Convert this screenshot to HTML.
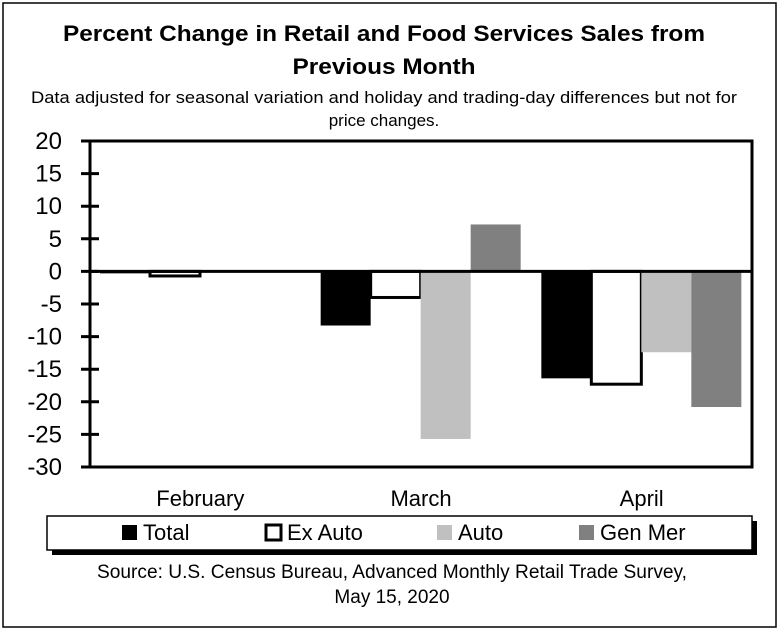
<!DOCTYPE html>
<html><head><meta charset="utf-8"><style>
body{margin:0;background:#fff;}
svg{display:block;font-family:"Liberation Sans",sans-serif;}
</style></head><body>
<svg id="chart" width="780" height="631">
<rect x="3" y="3" width="773" height="624" fill="#fff" stroke="#000" stroke-width="1.5"/>
<text x="384" y="41" text-anchor="middle" font-size="22" font-weight="bold" textLength="642" lengthAdjust="spacingAndGlyphs">Percent Change in Retail and Food Services Sales from</text>
<text x="384" y="74" text-anchor="middle" font-size="22" font-weight="bold" textLength="183" lengthAdjust="spacingAndGlyphs">Previous Month</text>
<text x="384" y="103" text-anchor="middle" font-size="17" textLength="706" lengthAdjust="spacingAndGlyphs">Data adjusted for seasonal variation and holiday and trading-day differences but not for</text>
<text x="384" y="126" text-anchor="middle" font-size="17">price changes.</text>
<g id="bars"></g>
<g id="axes"></g>
<g id="legend">
<rect x="52" y="521" width="705" height="34" fill="#000"/>
<rect x="47" y="516" width="705" height="34" fill="#fff" stroke="#000" stroke-width="1.5"/>
</g>
<text x="392" y="578" text-anchor="middle" font-size="19" textLength="590" lengthAdjust="spacingAndGlyphs">Source: U.S. Census Bureau, Advanced Monthly Retail Trade Survey,</text>
<text x="392" y="603" text-anchor="middle" font-size="19">May 15, 2020</text>
</svg>
<script>
const categories = ["February", "March", "April"];
const seriesNames = ["Total", "Ex Auto", "Auto", "Gen Mer"];
const totalValues = [-0.3, -8.3, -16.4];
const exAutoValues = [-0.7, -4.0, -17.3];
const autoValues = [-0.1, -25.7, -12.4];
const genMerValues = [0.0, 7.2, -20.8];
const yTicks = [20, 15, 10, 5, 0, -5, -10, -15, -20, -25, -30];

const NS = "http://www.w3.org/2000/svg";
const L = 90, R = 752, T = 141, B = 467, yMax = 20, yMin = -30;
const fills = ["#000", "#fff", "#c0c0c0", "#808080"];
const strokes = ["none", "#000", "none", "none"];
const series = [totalValues, exAutoValues, autoValues, genMerValues];
function y(v){ return T + (yMax - v) / (yMax - yMin) * (B - T); }
const gw = (R - L) / categories.length;
function x(ci, si){ return L + ci * gw + 10 + si * 50; }
function mk(tag, attrs, parent){ const e = document.createElementNS(NS, tag); for (const k in attrs) e.setAttribute(k, attrs[k]); parent.appendChild(e); return e; }
const bars = document.getElementById("bars"), axes = document.getElementById("axes"), legend = document.getElementById("legend");
series.forEach((vals, si) => {
  vals.forEach((v, ci) => {
    const y0 = y(0), y1 = y(v);
    const r = mk("rect", {x: x(ci, si), y: Math.min(y0, y1), width: 50, height: Math.max(Math.abs(y1 - y0), 0.8), fill: fills[si], stroke: strokes[si], "stroke-width": si === 1 ? 3 : 0}, bars);
    
    
  });
});
const frame = mk("rect", {x: L, y: T, width: R - L, height: B - T, fill: "none", stroke: "#000", "stroke-width": 3}, axes);


const zl = mk("line", {x1: L, x2: R, y1: y(0), y2: y(0), stroke: "#000", "stroke-width": 3}, axes);


yTicks.forEach(t => {
  const tk = mk("line", {x1: L - 9, x2: L + 9, y1: y(t), y2: y(t), stroke: "#000", "stroke-width": 3}, axes);
  
  
  const lb = mk("text", {x: 62, y: y(t) + 8, "text-anchor": "end", "font-size": 24}, axes);
  lb.textContent = t;
  
  
});
categories.forEach((c, ci) => {
  const lb = mk("text", {x: L + ci * gw + gw / 2, y: 506, "text-anchor": "middle", "font-size": 22}, axes);
  lb.textContent = c;
  
  
});
const legX = [122, 266, 437, 579];
seriesNames.forEach((n, si) => {
  const sw = mk("rect", {x: legX[si], y: 525, width: 15, height: 15, fill: fills[si], stroke: strokes[si], "stroke-width": si === 1 ? 3 : 0}, legend);
  
  
  const t = mk("text", {x: legX[si] + 21, y: 540, "font-size": 22}, legend);
  t.textContent = n;
  
  
});
</script>
</body></html>
